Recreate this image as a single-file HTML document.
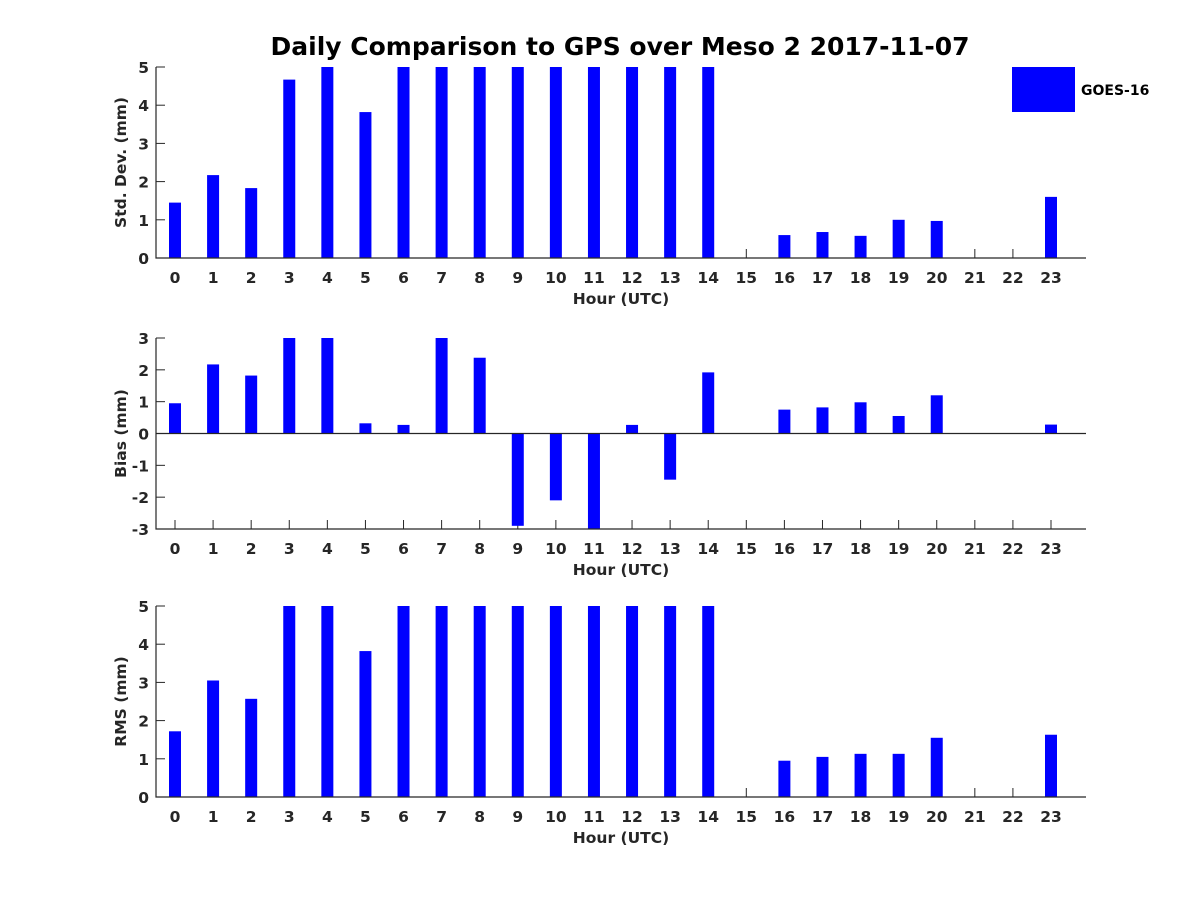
<!DOCTYPE html>
<html><head><meta charset="utf-8"><style>
body{margin:0;background:#fff}
svg{display:block;font-family:"DejaVu Sans","Liberation Sans",sans-serif;font-weight:bold}
</style></head><body>
<svg id="c" width="1200" height="900" xmlns="http://www.w3.org/2000/svg">
<rect width="1200" height="900" fill="#fff"/>
<text x="620" y="55" text-anchor="middle" font-size="25" fill="#000">Daily Comparison to GPS over Meso 2 2017-11-07</text>
<g>
<rect x="1012" y="67" width="63" height="45" fill="#0000ff"/>
<text x="1081" y="95" font-size="14" fill="#000">GOES-16</text>
</g>
</svg>
<script>
const hours = [0,1,2,3,4,5,6,7,8,9,10,11,12,13,14,15,16,17,18,19,20,21,22,23];
const stdValues = [1.45,2.17,1.83,4.67,5,3.82,5,5,5,5,5,5,5,5,5,null,0.6,0.68,0.58,1.0,0.97,null,null,1.6];
const biasValues = [0.95,2.17,1.82,3,3,0.32,0.27,3,2.38,-2.9,-2.1,-3,0.27,-1.45,1.92,null,0.75,0.82,0.98,0.55,1.2,null,null,0.28];
const rmsValues = [1.72,3.05,2.57,5,5,3.82,5,5,5,5,5,5,5,5,5,null,0.95,1.05,1.13,1.13,1.55,null,null,1.63];
const stdTicks = [0,1,2,3,4,5];
const biasTicks = [-3,-2,-1,0,1,2,3];
const rmsTicks = [0,1,2,3,4,5];

const NS = "http://www.w3.org/2000/svg";
const svg = document.getElementById('c');
const X0 = 156, X1 = 1086;
function xs(h){ return 175 + h * (1051 - 175) / 23; }
function mk(tag, attrs, parent){
  const e = document.createElementNS(NS, tag);
  for (const k in attrs) e.setAttribute(k, attrs[k]);
  parent.appendChild(e);
  return e;
}
function panel(name, top, bottom, ymin, ymax, vals, ticks, ylabel){
  const g = mk('g', {}, svg);
  
  
  const ys = v => bottom - (v - ymin) / (ymax - ymin) * (bottom - top);
  const y0 = ys(Math.max(0, ymin));
  hours.forEach(h => {
    const t = mk('line', {x1:xs(h), x2:xs(h), y1:bottom, y2:bottom-9, stroke:'#262626', 'stroke-width':1}, g);
    
    
    const l = mk('text', {x:xs(h), y:bottom+25, 'text-anchor':'middle', 'font-size':15.5, fill:'#262626'}, g);
    l.textContent = h;
    
    
  });
  vals.forEach((v, i) => {
    if (v === null) return;
    const yv = ys(v);
    const b = mk('rect', {x:xs(hours[i]) - 6, y:Math.min(yv, y0), width:12, height:Math.abs(yv - y0), fill:'#0000ff'}, g);
    
    
  });
  ticks.forEach(t => {
    const y = ys(t);
    const tl = mk('line', {x1:X0, x2:X0+9, y1:y, y2:y, stroke:'#262626', 'stroke-width':1}, g);
    
    
    const l = mk('text', {x:X0-7, y:y+6, 'text-anchor':'end', 'font-size':15.5, fill:'#262626'}, g);
    l.textContent = t;
    
    
  });
  const ax = mk('path', {d:`M${X0} ${top}V${bottom}H${X1}`, stroke:'#262626', 'stroke-width':1.2, fill:'none'}, g);
  
  
  if (ymin < 0) {
    const zl = mk('line', {x1:X0, x2:X1, y1:y0, y2:y0, stroke:'#262626', 'stroke-width':1.2}, g);
    
    
  }
  const xl = mk('text', {x:621, y:bottom+46, 'text-anchor':'middle', 'font-size':15.5, fill:'#262626'}, g);
  xl.textContent = 'Hour (UTC)';
  
  
  const cy = (top + bottom) / 2;
  const yl = mk('text', {x:0, y:0, 'text-anchor':'middle', 'font-size':15.5, fill:'#262626', transform:`translate(126 ${cy}) rotate(-90)`}, g);
  yl.textContent = ylabel;
  
  
}
panel('std-dev', 67, 258, 0, 5, stdValues, stdTicks, 'Std. Dev. (mm)');
panel('bias', 338, 529, -3, 3, biasValues, biasTicks, 'Bias (mm)');
panel('rms', 606, 797, 0, 5, rmsValues, rmsTicks, 'RMS (mm)');
</script>
</body></html>
